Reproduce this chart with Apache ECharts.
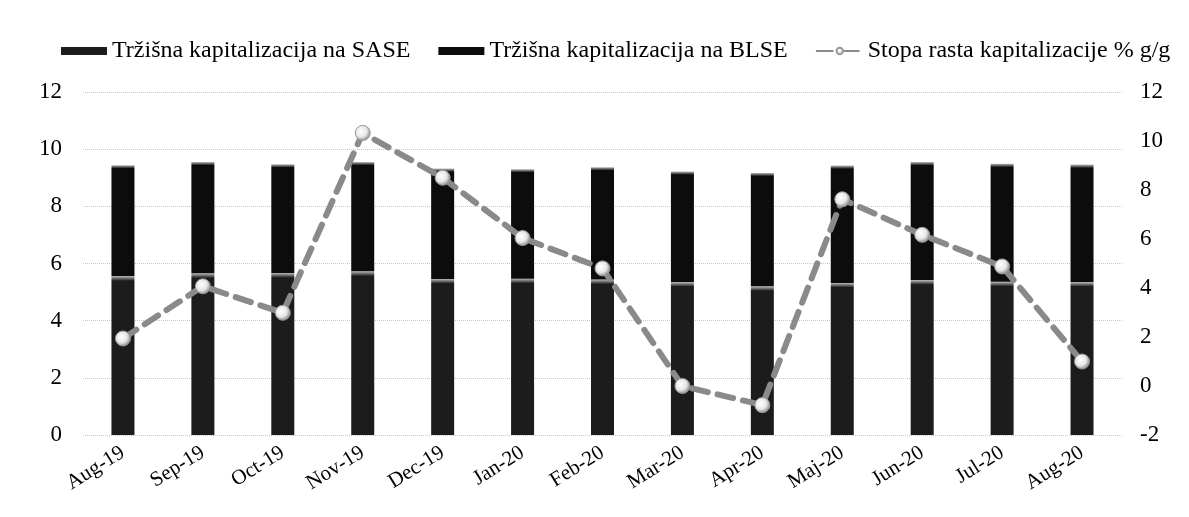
<!DOCTYPE html>
<html>
<head>
<meta charset="utf-8">
<script src="https://cdn.jsdelivr.net/npm/echarts@6/dist/echarts.min.js"></script>
<style>
  html, body { margin: 0; padding: 0; background: #fff; }
  #chart { width: 1189px; height: 517px; }
</style>
</head>
<body>
<div id="chart"></div>
<script>
'use strict';

// kategorije (mjeseci)
const months = ['Aug-19', 'Sep-19', 'Oct-19', 'Nov-19', 'Dec-19', 'Jan-20', 'Feb-20',
    'Mar-20', 'Apr-20', 'Maj-20', 'Jun-20', 'Jul-20', 'Aug-20'];

// kapitalizacija na SASE (donji dio stupca)
const sase = [5.56, 5.66, 5.67, 5.73, 5.46, 5.47, 5.44, 5.35, 5.2, 5.32, 5.42, 5.36, 5.35];

// kapitalizacija na BLSE (gornji dio stupca)
const blse = [3.88, 3.89, 3.8, 3.82, 3.86, 3.83, 3.93, 3.87, 3.97, 4.11, 4.13, 4.13, 4.11];

// stopa rasta kapitalizacije % g/g (desna os)
const growth = [1.94, 4.07, 2.99, 10.33, 8.5, 6.04, 4.8, 0.0, -0.78, 7.62, 6.17, 4.88, 1.0];

const serif = '"Liberation Serif", "DejaVu Serif", serif';

function barColor(base) {
    // svijetli vrh stupca kao na originalu
    return new echarts.graphic.LinearGradient(0, 0, 0, 1, [
        {offset: 0, color: '#bbbbbb'},
        {offset: 0.03, color: base},
        {offset: 1, color: base}
    ]);
}

let myChart = echarts.init(document.getElementById('chart'));

myChart.setOption({
    animation: false,
    backgroundColor: '#ffffff',
    textStyle: {fontFamily: serif, color: '#000'},
    legend: {
        top: 34,
        left: 56,
        itemWidth: 46,
        itemHeight: 8,
        itemGap: 28,
        textStyle: {fontFamily: serif, fontSize: 24, color: '#000'},
        data: [
            {name: 'Tržišna kapitalizacija na SASE', icon: 'rect'},
            {name: 'Tržišna kapitalizacija na BLSE', icon: 'rect'},
            {name: 'Stopa rasta kapitalizacije % g/g'}
        ]
    },
    grid: {
        left: 83,
        right: 67,
        top: 92,
        height: 343
    },
    xAxis: {
        type: 'category',
        data: months,
        axisLine: {show: false},
        axisTick: {show: false},
        axisLabel: {
            rotate: 32,
            fontFamily: serif,
            fontSize: 21,
            color: '#000',
            margin: 16,
            interval: 0
        }
    },
    yAxis: [
        {
            type: 'value',
            min: 0,
            max: 12,
            interval: 2,
            position: 'left',
            axisLine: {show: false},
            axisTick: {show: false},
            axisLabel: {fontFamily: serif, fontSize: 23, color: '#000', margin: 21},
            splitLine: {lineStyle: {type: 'dotted', color: '#c8c8c8', width: 1}}
        },
        {
            type: 'value',
            min: -2,
            max: 12,
            interval: 2,
            position: 'right',
            axisLine: {show: false},
            axisTick: {show: false},
            axisLabel: {fontFamily: serif, fontSize: 23, color: '#000', margin: 18},
            splitLine: {show: false}
        }
    ],
    series: [
        {
            name: 'Tržišna kapitalizacija na SASE',
            type: 'bar',
            stack: 'kap',
            barWidth: 23,
            itemStyle: {color: barColor('#1c1c1c')},
            data: sase
        },
        {
            name: 'Tržišna kapitalizacija na BLSE',
            type: 'bar',
            stack: 'kap',
            barWidth: 23,
            itemStyle: {color: barColor('#0c0c0c')},
            data: blse
        },
        {
            name: 'Stopa rasta kapitalizacije % g/g',
            type: 'line',
            yAxisIndex: 1,
            symbol: 'circle',
            symbolSize: 15,
            lineStyle: {color: '#8a8a8a', width: 6, type: [16, 10], cap: 'round'},
            itemStyle: {
                color: new echarts.graphic.RadialGradient(0.4, 0.4, 0.6, [
                    {offset: 0, color: '#ffffff'},
                    {offset: 0.6, color: '#e6e6e6'},
                    {offset: 1, color: '#8a8a8a'}
                ]),
                borderColor: '#9a9a9a',
                borderWidth: 1
            },
            z: 5,
            data: growth
        }
    ]
});
</script>
</body>
</html>
